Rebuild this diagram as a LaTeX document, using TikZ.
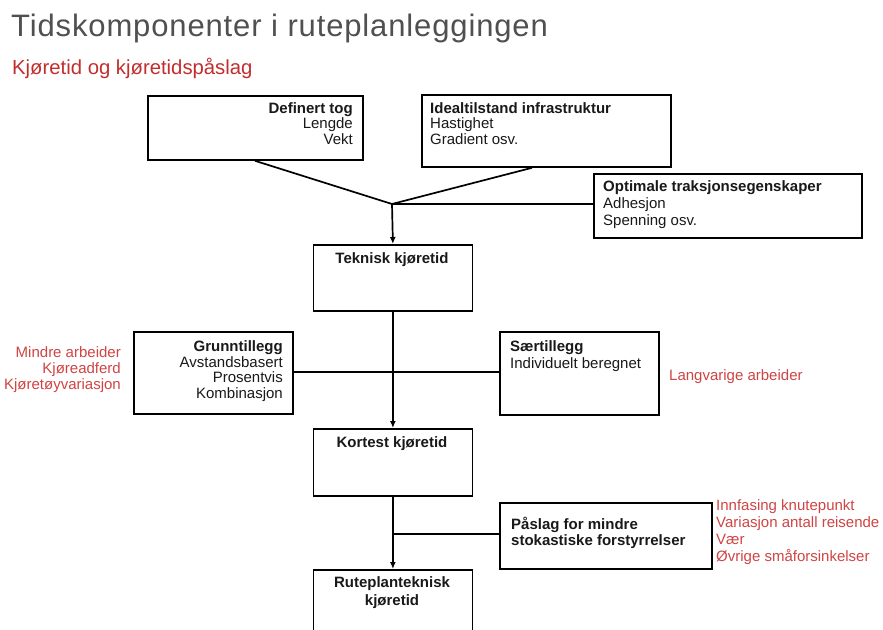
\documentclass[tikz,border=0pt]{standalone}
\usepackage{fontspec}
\setmainfont{Liberation Sans}
\newfontfamily\titlefont[LetterSpace=2.8]{Liberation Sans}
\usetikzlibrary{arrows.meta}
\definecolor{titlegray}{RGB}{80,80,80}
\definecolor{subred}{RGB}{196,45,45}
\definecolor{annred}{RGB}{208,68,68}
\begin{document}
\begin{tikzpicture}[x=1pt,y=-1pt,
  boxst/.style={draw=black,line width=1.8pt,inner sep=0pt,anchor=north west},
  txt/.style={inner sep=0pt,font=\fontsize{15}{16}\selectfont,text=black!90},
  btxt/.style={txt,font=\fontsize{15}{16}\selectfont\bfseries},
  ann/.style={inner sep=0pt,font=\fontsize{15}{16}\selectfont,text=annred},
  conn/.style={line width=1.7pt,draw=black},
  arr/.style={conn,-{Latex[length=7pt,width=6pt]}}]
\useasboundingbox (0,0) rectangle (883,629);
\clip (0,0) rectangle (883,629);
\fill[white] (0,0) rectangle (883,629);
% title
\node[inner sep=0pt,anchor=base west,text=titlegray,font=\titlefont\fontsize{31}{34}\selectfont] (title) at (11,36) {Tidskomponenter i ruteplanleggingen};
\node[inner sep=0pt,anchor=base west,text=subred,font=\fontsize{20.3}{24}\selectfont] (sub) at (12,74) {Kjøretid og kjøretidspåslag};
% boxes
\node[boxst,minimum width=215pt,minimum height=64pt] (def) at (147,95) {};
\node[boxst,minimum width=249pt,minimum height=72pt] (ideal) at (421,94) {};
\node[boxst,minimum width=268pt,minimum height=64pt] (opt) at (593,173) {};
\node[boxst,minimum width=159pt,minimum height=66pt] (tek) at (312.5,244) {};
\node[boxst,minimum width=159pt,minimum height=82pt] (grunn) at (133,331) {};
\node[boxst,minimum width=159pt,minimum height=83pt] (saer) at (499,331) {};
\node[boxst,minimum width=159pt,minimum height=67pt] (kort) at (312.5,428) {};
\node[boxst,minimum width=212pt,minimum height=66pt] (pas) at (499,502) {};
\node[boxst,minimum width=159pt,minimum height=90pt] (rute) at (312.5,569) {};
% box texts
\node[btxt,anchor=base east] (def1) at (353,113) {Definert tog};
\node[txt,anchor=base east] (def2) at (353,128.5) {Lengde};
\node[txt,anchor=base east] (def3) at (353,144) {Vekt};
\node[btxt,anchor=base west] (ide1) at (430,113) {Idealtilstand infrastruktur};
\node[txt,anchor=base west] (ide2) at (430,128.5) {Hastighet};
\node[txt,anchor=base west] (ide3) at (430,144) {Gradient osv.};
\node[btxt,anchor=base west] (opt1) at (603,191) {Optimale traksjonsegenskaper};
\node[txt,anchor=base west] (opt2) at (603,208) {Adhesjon};
\node[txt,anchor=base west] (opt3) at (603,225) {Spenning osv.};
\node[btxt,anchor=base] (tek1) at (392,263) {Teknisk kjøretid};
\node[btxt,anchor=base east] (gr1) at (283,351) {Grunntillegg};
\node[txt,anchor=base east] (gr2) at (283,367) {Avstandsbasert};
\node[txt,anchor=base east] (gr3) at (283,382.5) {Prosentvis};
\node[txt,anchor=base east] (gr4) at (283,398) {Kombinasjon};
\node[btxt,anchor=base west] (sa1) at (510,351) {Særtillegg};
\node[txt,anchor=base west] (sa2) at (510,368) {Individuelt beregnet};
\node[btxt,anchor=base] (ko1) at (392,447) {Kortest kjøretid};
\node[btxt,anchor=base west] (pa1) at (511,529) {Påslag for mindre};
\node[btxt,anchor=base west] (pa2) at (511,545) {stokastiske forstyrrelser};
\node[btxt,anchor=base] (ru1) at (392,587) {Ruteplanteknisk};
\node[btxt,anchor=base] (ru2) at (392,605) {kjøretid};
% annotations
\node[ann,anchor=base east] (an1) at (121,357) {Mindre arbeider};
\node[ann,anchor=base east] (an2) at (121,373) {Kjøreadferd};
\node[ann,anchor=base east] (an3) at (121,389) {Kjøretøyvariasjon};
\node[ann,anchor=base west] (an4) at (669,380) {Langvarige arbeider};
\node[ann,anchor=base west] (an5) at (716,510) {Innfasing knutepunkt};
\node[ann,anchor=base west] (an6) at (716,527) {Variasjon antall reisende};
\node[ann,anchor=base west] (an7) at (716,544) {Vær};
\node[ann,anchor=base west] (an8) at (716,561) {Øvrige småforsinkelser};
% junctions
\coordinate (j1) at (392,204);
\coordinate (j2) at (392,372);
\coordinate (j3) at (392,534);
% connectors
\draw[conn] (def.south west) ++(108,0) coordinate (ds) -- (j1);
\draw[conn] (ideal.south west) ++(111,0) coordinate (is) -- (j1);
\draw[conn] (j1) -- (j1 -| opt.west);
\draw[arr] (j1) -- (tek.north);
\draw[arr] (tek.south) -- (kort.north);
\draw[conn] (grunn.east |- j2) -- (saer.west |- j2);
\draw[arr] (kort.south) -- (rute.north);
\draw[conn] (j3) -- (j3 -| pas.west);
\end{tikzpicture}
\end{document}
